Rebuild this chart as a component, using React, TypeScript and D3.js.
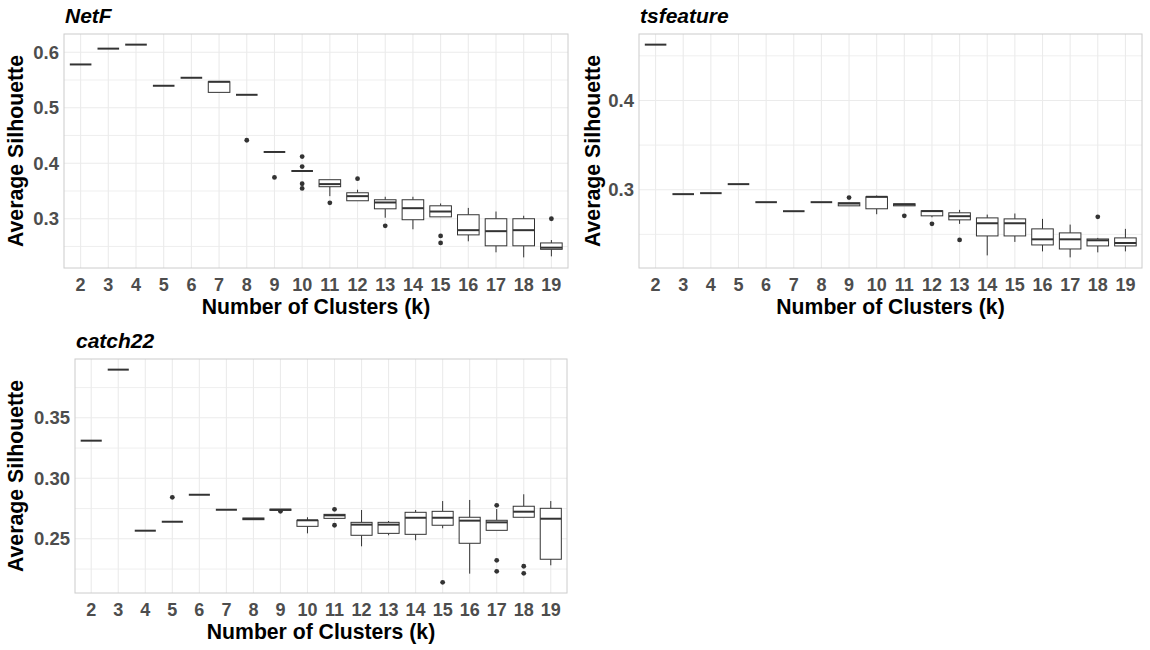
import React from 'react';
import * as d3 from 'd3';

// box stats per k: [lower whisker, q1, median, q3, upper whisker]
type Box = number[];

const ks = ['2', '3', '4', '5', '6', '7', '8', '9', '10', '11', '12', '13', '14', '15', '16', '17', '18', '19'];

const netfBox: Box[] = [
  [0.578], [0.6065], [0.6137], [0.5396], [0.554],
  [0.5277, 0.5277, 0.5468, 0.5468, 0.5468],
  [0.5233], [0.4203], [0.386],
  [0.3407, 0.3577, 0.3624, 0.3703, 0.3703],
  [0.3324, 0.3324, 0.3407, 0.3468, 0.3523],
  [0.3018, 0.3179, 0.3293, 0.3342, 0.3396],
  [0.281, 0.2982, 0.319, 0.3342, 0.3396],
  [0.3034, 0.3034, 0.313, 0.3233, 0.3275],
  [0.2593, 0.2709, 0.2794, 0.3072, 0.3195],
  [0.2395, 0.2512, 0.2776, 0.3, 0.313],
  [0.2304, 0.2512, 0.2794, 0.3, 0.3054],
  [0.2322, 0.2449, 0.2479, 0.2564, 0.2616],
];
const netfOut: number[][] = [
  [], [], [], [], [], [], [0.4414], [0.3745], [0.412, 0.394, 0.363, 0.3546],
  [0.3287], [0.3722], [0.2872], [], [0.269, 0.2564], [], [], [], [0.3],
];

const tsBox: Box[] = [
  [0.4625], [0.2951], [0.2962], [0.3063], [0.2861], [0.276], [0.2861],
  [0.282, 0.282, 0.2846, 0.2854, 0.2854],
  [0.2726, 0.2787, 0.2921, 0.2921, 0.2936],
  [0.282, 0.282, 0.2835, 0.2843, 0.2843],
  [0.2692, 0.2708, 0.2761, 0.2764, 0.2764],
  [0.2618, 0.2663, 0.2704, 0.2742, 0.2775],
  [0.2265, 0.2483, 0.2625, 0.2685, 0.2722],
  [0.2416, 0.2483, 0.2625, 0.2674, 0.2734],
  [0.231, 0.2382, 0.2445, 0.2562, 0.2674],
  [0.2243, 0.2337, 0.2445, 0.2517, 0.261],
  [0.2299, 0.2371, 0.2434, 0.2449, 0.2461],
  [0.231, 0.2371, 0.2404, 0.2461, 0.2562],
];
const tsOut: number[][] = [
  [], [], [], [], [], [], [], [0.2913], [], [0.2708], [0.2618], [0.2438],
  [], [], [], [], [0.2697], [],
];

const c22Box: Box[] = [
  [0.3311], [0.3898], [0.2567], [0.2641], [0.2864], [0.274],
  [0.2658, 0.2658, 0.2664, 0.2672, 0.2672],
  [0.2735, 0.2735, 0.274, 0.2745, 0.2745],
  [0.2545, 0.2603, 0.2653, 0.2653, 0.2678],
  [0.2669, 0.2669, 0.2694, 0.2702, 0.2702],
  [0.2438, 0.2529, 0.2617, 0.2636, 0.2738],
  [0.2529, 0.2545, 0.2617, 0.2636, 0.2647],
  [0.2488, 0.2537, 0.2674, 0.2719, 0.2738],
  [0.2587, 0.2612, 0.2674, 0.2727, 0.2812],
  [0.2212, 0.2463, 0.265, 0.2678, 0.2821],
  [0.257, 0.257, 0.2636, 0.2653, 0.2746],
  [0.2678, 0.2678, 0.2724, 0.2769, 0.2868],
  [0.2281, 0.2331, 0.2666, 0.2752, 0.2812],
];
const c22Out: number[][] = [
  [], [], [], [0.2843], [], [], [], [0.2727], [], [0.2744, 0.2612], [], [], [],
  [0.214], [], [0.2777, 0.2322, 0.2231], [0.2273, 0.2215], [],
];

const netfTicks = [0.3, 0.4, 0.5, 0.6];
const netfTickLabels = ['0.3', '0.4', '0.5', '0.6'];
const tsTicks = [0.3, 0.4];
const tsTickLabels = ['0.3', '0.4'];
const c22Ticks = [0.25, 0.3, 0.35];
const c22TickLabels = ['0.25', '0.30', '0.35'];

const FONT = '"Liberation Sans", Arial, sans-serif';
const INK = '#333333';

interface PanelProps {
  title: string;
  boxes: Box[];
  outliers: number[][];
  ticks: number[];
  tickLabels: string[];
  left: number;
  right: number;
  top: number;
  bottom: number;
  yTitleX: number;
}

function Panel(p: PanelProps) {
  const x = d3.scalePoint<string>().domain(ks).range([p.left, p.right]).padding(0.6);

  const all = [...p.boxes.flat(), ...p.outliers.flat()];
  const [lo, hi] = d3.extent(all) as [number, number];
  const pad = (hi - lo) * 0.05;
  const y = d3.scaleLinear().domain([lo - pad, hi + pad]).range([p.bottom, p.top]);

  const stepT = p.ticks.length > 1 ? p.ticks[1] - p.ticks[0] : 0.1;
  const minors: number[] = [];
  for (let v = p.ticks[0] - stepT / 2; v <= hi + pad; v += stepT) {
    if (v >= lo - pad) minors.push(v);
  }

  const bw = x.step() * 0.78;
  const cx = (p.left + p.right) / 2;
  const cy = (p.top + p.bottom) / 2;

  return (
    <g>
      {/* grid */}
      {minors.map((v, i) => (
        <line key={'mn' + i} x1={p.left} x2={p.right} y1={y(v)} y2={y(v)} stroke="#ebebeb" strokeWidth={0.8} />
      ))}
      {p.ticks.map((v, i) => (
        <line key={'mj' + i} x1={p.left} x2={p.right} y1={y(v)} y2={y(v)} stroke="#ebebeb" strokeWidth={1.1} />
      ))}
      {ks.map((k) => (
        <line key={'vx' + k} x1={x(k)} x2={x(k)} y1={p.top} y2={p.bottom} stroke="#ebebeb" strokeWidth={1.1} />
      ))}
      <rect x={p.left} y={p.top} width={p.right - p.left} height={p.bottom - p.top} fill="none" stroke="#cccccc" strokeWidth={1} />

      {/* boxes */}
      {ks.map((k, i) => {
        const b = p.boxes[i];
        const [wl, q1, md, q3, wh] = b.length === 5 ? b : [b[0], b[0], b[0], b[0], b[0]];
        const xc = x(k)!;
        return (
          <g key={'b' + k}>
            {wh > q3 && <line x1={xc} x2={xc} y1={y(q3)} y2={y(wh)} stroke={INK} strokeWidth={1} />}
            {wl < q1 && <line x1={xc} x2={xc} y1={y(q1)} y2={y(wl)} stroke={INK} strokeWidth={1} />}
            <rect x={xc - bw / 2} y={y(q3)} width={bw} height={y(q1) - y(q3)} fill="white" stroke={INK} strokeWidth={1} />
            <line x1={xc - bw / 2} x2={xc + bw / 2} y1={y(md)} y2={y(md)} stroke={INK} strokeWidth={2} />
            {p.outliers[i].map((o, j) => (
              <circle key={j} cx={xc} cy={y(o)} r={2.4} fill={INK} />
            ))}
          </g>
        );
      })}

      {/* axes text */}
      {p.ticks.map((v, i) => (
        <text key={'yt' + i} x={p.left - 5} y={y(v)} dy="0.36em" textAnchor="end" fontSize={18.5} fontWeight="bold" fill="#4d4d4d" fontFamily={FONT}>
          {p.tickLabels[i]}
        </text>
      ))}
      {ks.map((k) => (
        <text key={'xt' + k} x={x(k)} y={p.bottom + 23} textAnchor="middle" fontSize={18} fontWeight="bold" fill="#4d4d4d" fontFamily={FONT}>
          {k}
        </text>
      ))}
      <text x={cx} y={p.bottom + 46} textAnchor="middle" fontSize={21.2} fontWeight="bold" fill="#000" fontFamily={FONT}>
        Number of Clusters (k)
      </text>
      <text transform={`translate(${p.yTitleX},${cy}) rotate(-90)`} textAnchor="middle" fontSize={21.3} fontWeight="bold" fill="#000" fontFamily={FONT}>
        Average Silhouette
      </text>
      <text x={p.left + 1} y={p.top - 11} fontSize={21} fontWeight="bold" fontStyle="italic" fill="#000" fontFamily={FONT}>
        {p.title}
      </text>
    </g>
  );
}

export default function App() {
  return (
    <div>
      <style>{`body{margin:0}`}</style>
      <svg width={1150} height={650} style={{ display: 'block', background: '#fff' }}>
        <Panel title="NetF" boxes={netfBox} outliers={netfOut} ticks={netfTicks} tickLabels={netfTickLabels}
          left={64} right={568} top={34} bottom={268} yTitleX={23} />
        <Panel title="tsfeature" boxes={tsBox} outliers={tsOut} ticks={tsTicks} tickLabels={tsTickLabels}
          left={639} right={1142} top={34} bottom={268} yTitleX={600} />
        <Panel title="catch22" boxes={c22Box} outliers={c22Out} ticks={c22Ticks} tickLabels={c22TickLabels}
          left={75} right={567} top={359} bottom={593} yTitleX={23} />
      </svg>
    </div>
  );
}
